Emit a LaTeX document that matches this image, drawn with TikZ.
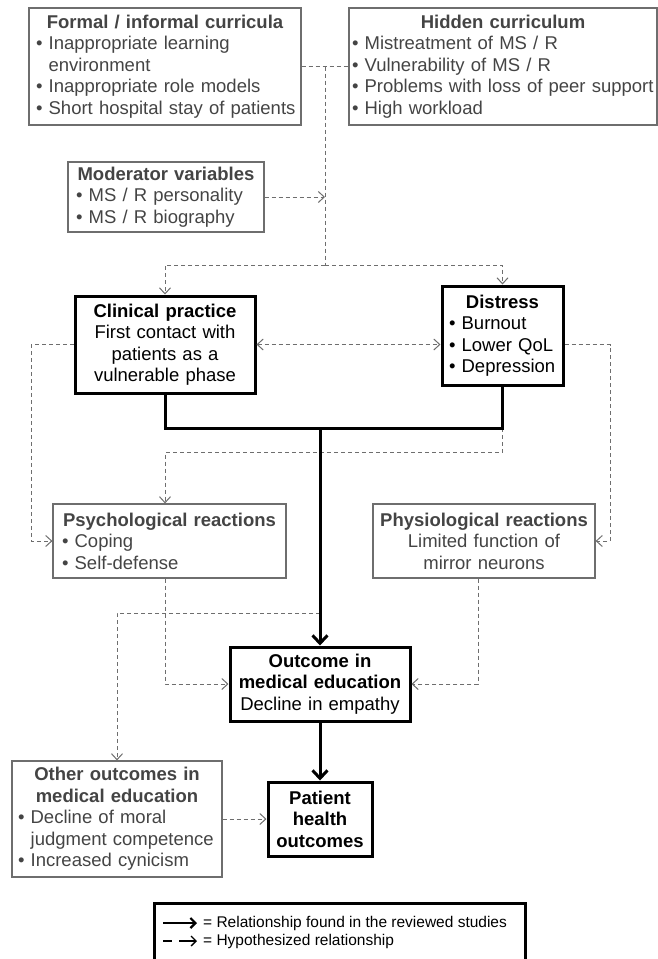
\documentclass[tikz,border=0pt]{standalone}
\usepackage{fontspec}
\setmainfont{Liberation Sans}
\usetikzlibrary{arrows.meta}
\definecolor{txtgray}{HTML}{444444}
\definecolor{linegray}{HTML}{6E6E6E}
\newcommand{\bul}{\textbullet\ }
\newcommand{\ttl}[1]{\makebox[\linewidth]{\bfseries #1}}
\begin{document}
\begin{tikzpicture}[x=1pt,y=-1pt,font=\fontsize{18.5}{21.5}\selectfont,
  gbox/.style={draw=linegray,line width=1.2pt,text=txtgray,align=left,inner ysep=0pt},
  kbox/.style={draw=black,line width=3pt,align=center,inner ysep=0pt},
  dsh/.style={linegray,line width=1pt,dash pattern=on 4pt off 3pt,>={Straight Barb[length=6pt,width=11pt]}},
  thk/.style={black,line width=3pt,>={Straight Barb[length=8pt,width=15pt]}}]
\useasboundingbox (0,0) rectangle (658,959);
\node[gbox,minimum width=272pt,minimum height=117pt,text width=258pt,inner xsep=7pt] (form) at (165,66.5)
  {\ttl{Formal / informal curricula}\\\bul Inappropriate learning\\\phantom{\bul}environment\\\bul Inappropriate role models\\\mbox{\bul Short hospital stay of patients}};
\node[gbox,minimum width=308pt,minimum height=117pt,text width=302pt,inner xsep=3pt] (hid) at (503,66.5)
  {\ttl{Hidden curriculum}\\\bul Mistreatment of MS / R\\\bul Vulnerability of MS / R\\\mbox{\bul Problems with loss of peer support}\\\bul High workload};
\node[gbox,minimum width=196pt,minimum height=70pt,text width=180pt,inner xsep=8pt] (mod) at (166,197)
  {\ttl{Moderator variables}\\\bul MS / R personality\\\bul MS / R biography};
\node[kbox,minimum width=180pt,minimum height=97pt,text width=170pt,inner xsep=5pt] (clin) at (165,344.5)
  {\textbf{Clinical practice}\\First contact with\\patients as a\\vulnerable phase};
\node[kbox,align=left,minimum width=121pt,minimum height=99pt,text width=107pt,inner xsep=7pt] (dist) at (502.5,335.5)
  {\ttl{Distress}\\\mbox{\bul Burnout}\\\mbox{\bul Lower QoL}\\\mbox{\bul Depression}};
\node[gbox,minimum width=233pt,minimum height=74pt,text width=215pt,inner xsep=9pt] (psy) at (169.5,541)
  {\ttl{Psychological reactions}\\\bul Coping\\\bul Self-defense};
\node[gbox,align=center,minimum width=222pt,minimum height=74pt,text width=212pt,inner xsep=5pt] (phy) at (484,541)
  {\textbf{Physiological reactions}\\Limited function of\\mirror neurons};
\node[kbox,minimum width=180pt,minimum height=74pt,text width=172pt,inner xsep=4pt] (out) at (320,684)
  {\textbf{Outcome in}\\\textbf{medical education}\\Decline in empathy};
\node[gbox,minimum width=210pt,minimum height=116pt,text width=198pt,inner xsep=6pt] (oth) at (117,819)
  {\ttl{Other outcomes in}\\\ttl{medical education}\\\bul Decline of moral\\\phantom{\bul}judgment competence\\\bul Increased cynicism};
\node[kbox,minimum width=104pt,minimum height=74pt,text width=96pt,inner xsep=4pt] (pat) at (320,819)
  {\textbf{Patient}\\\textbf{health}\\\textbf{outcomes}};
\node[draw,line width=3pt,minimum width=371pt,minimum height=57pt] (leg) at (339.5,931.5) {};
\node[anchor=west,inner sep=0pt,font=\fontsize{15.5}{18}\selectfont] (l1) at (203,923) {= Relationship found in the reviewed studies};
\node[anchor=west,inner sep=0pt,font=\fontsize{15.5}{18}\selectfont] (l2) at (203,941) {= Hypothesized relationship};
\coordinate (j1) at (325,66.5);
\coordinate (j2) at (325,265);
\coordinate (jt) at (320,428);
\coordinate (jo) at (320,613);
\coordinate (lft) at (31,344.5);
\coordinate (rgt) at (610,344.5);
\draw[dsh] (form.east) -- (hid.west);
\draw[dsh] (j1) -- (j2);
\draw[dsh,->] (mod.east) -- (mod.east -| j1);
\draw[dsh,->] (j2) -| (clin.north);
\draw[dsh,->] (j2) -| (dist.north);
\draw[dsh,<->] (clin.east) -- (clin.east -| dist.west);
\draw[dsh,->] (clin.west) -- (lft) |- (psy.west);
\draw[dsh,->] (clin.east -| dist.east) -- (rgt) |- (phy.east);
\draw[dsh,->] (dist.south |- jt) -- ++(0,24) -| (clin.south |- psy.north);
\draw[dsh,->] (clin.south |- psy.south) |- (out.west);
\draw[dsh,->] (phy.south) ++(-6,0) |- (out.east);
\draw[dsh,->] (jo) -| (oth.north);
\draw[dsh,->] (oth.east) -- (pat.west);
\draw[thk] (clin.south) |- (jt) -| (dist.south);
\draw[thk,->] (jt) -- (out.north);
\draw[thk,->] (out.south) -- (pat.north);
\draw[line width=2.2pt,-{Straight Barb[length=5pt,width=10pt]}] ([xshift=-40pt]l1.west) -- ([xshift=-6pt]l1.west);
\draw[line width=1.3pt,dash pattern=on 9pt off 7pt on 30pt off 0pt,-{Straight Barb[length=5pt,width=10pt]}] ([xshift=-40pt]l2.west) -- ([xshift=-6pt]l2.west);
\end{tikzpicture}
\end{document}
